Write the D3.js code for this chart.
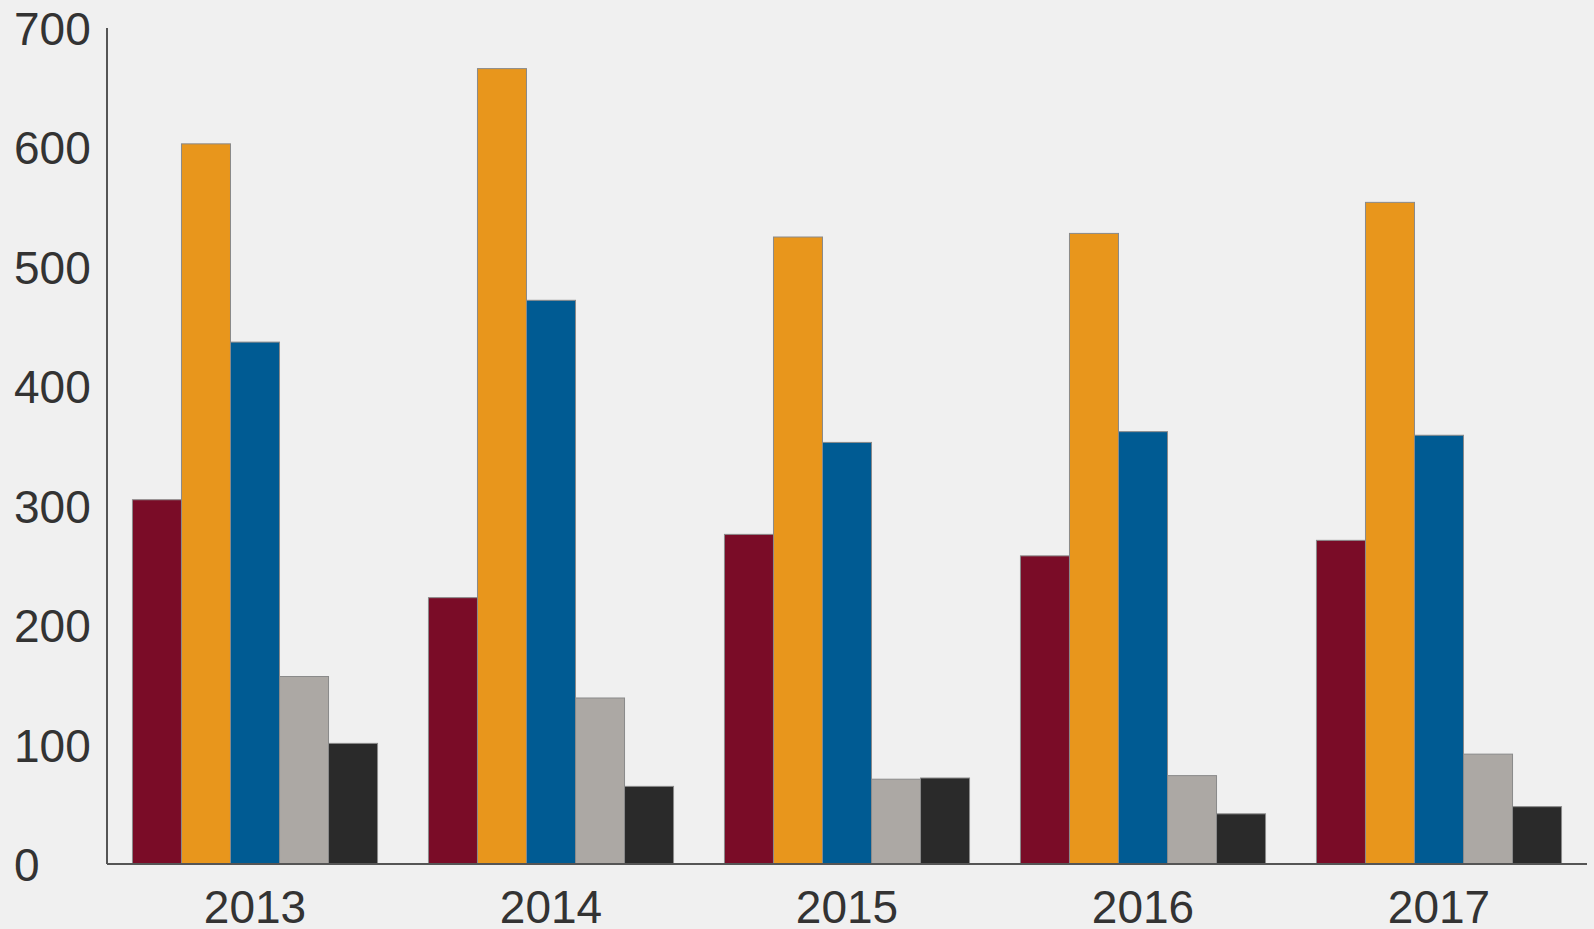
<!DOCTYPE html>
<html>
<head>
<meta charset="utf-8">
<script src="https://cdn.jsdelivr.net/npm/d3@7"></script>
<style>
  html, body { margin: 0; padding: 0; background: #f0f0f0; }
  svg { display: block; }
</style>
</head>
<body>
<svg id="chart" width="1594" height="929"></svg>
<script>
const years = ["2013", "2014", "2015", "2016", "2017"];
const seriesNames = ["s1", "s2", "s3", "s4", "s5"];
const s1 = [305, 223, 276, 258, 271];
const s2 = [603, 666, 525, 528, 554];
const s3 = [437, 472, 353, 362, 359];
const s4 = [157, 139, 71, 74, 92];
const s5 = [101, 65, 72, 42, 48];
const yTicks = [0, 100, 200, 300, 400, 500, 600, 700];
const colors = ["#7a0c27", "#e8961c", "#005b93", "#aca8a4", "#2a2a2a"];

const seriesValues = [s1, s2, s3, s4, s5];

(function () {
const svg = d3.select("#chart");
const mLeft = 107, mRight = 1587, mTop = 28, mBottom = 864;

const x0 = d3.scaleBand().domain(years).range([mLeft, mRight])
  .paddingInner(0.172).paddingOuter(0.086);
const x1 = d3.scaleBand().domain(seriesNames).range([0, x0.bandwidth()]).padding(0);
const y = d3.scaleLinear().domain([0, 700]).range([mBottom, mTop]);

svg.append("rect").attr("width", 1594).attr("height", 929).attr("fill", "#f0f0f0");

const groups = svg.append("g").selectAll("g")
  .data(years)
  .join("g")
  .attr("transform", d => `translate(${x0(d)},0)`);

groups.selectAll("rect")
  .data((yr, i) => seriesNames.map((s, j) => ({ s, v: seriesValues[j][i], c: colors[j] })))
  .join("rect")
  .attr("x", d => x1(d.s))
  .attr("y", d => y(d.v))
  .attr("width", x1.bandwidth())
  .attr("height", d => y(0) - y(d.v))
  .attr("fill", d => d.c)
  .attr("stroke", "#8a8a8a")
  .attr("stroke-width", 1);

// Y axis
const yAxis = d3.axisLeft(y).tickValues(yTicks).tickSize(0).tickFormat(d3.format("d"));
const gy = svg.append("g").attr("transform", `translate(${mLeft},0)`).call(yAxis);
gy.select(".domain").attr("stroke", "#555").attr("stroke-width", 2).attr("d", `M0,${mTop}V${mBottom}`);
gy.selectAll(".tick text")
  .attr("x", 14 - mLeft)
  .attr("text-anchor", "start")
  .attr("dy", "0.36em")
  .attr("fill", "#333")
  .style("font-family", "'Liberation Sans', Arial, sans-serif")
  .style("font-size", "46px");

// X axis
const xAxis = d3.axisBottom(x0).tickSize(0);
const gx = svg.append("g").attr("transform", `translate(0,${mBottom})`).call(xAxis);
gx.select(".domain").attr("stroke", "#555").attr("stroke-width", 2).attr("d", `M${mLeft},0H${mRight}`);
gx.selectAll(".tick text")
  .attr("y", 59)
  .attr("dy", 0)
  .attr("fill", "#333")
  .style("font-family", "'Liberation Sans', Arial, sans-serif")
  .style("font-size", "46px");
})();
</script>
</body>
</html>
